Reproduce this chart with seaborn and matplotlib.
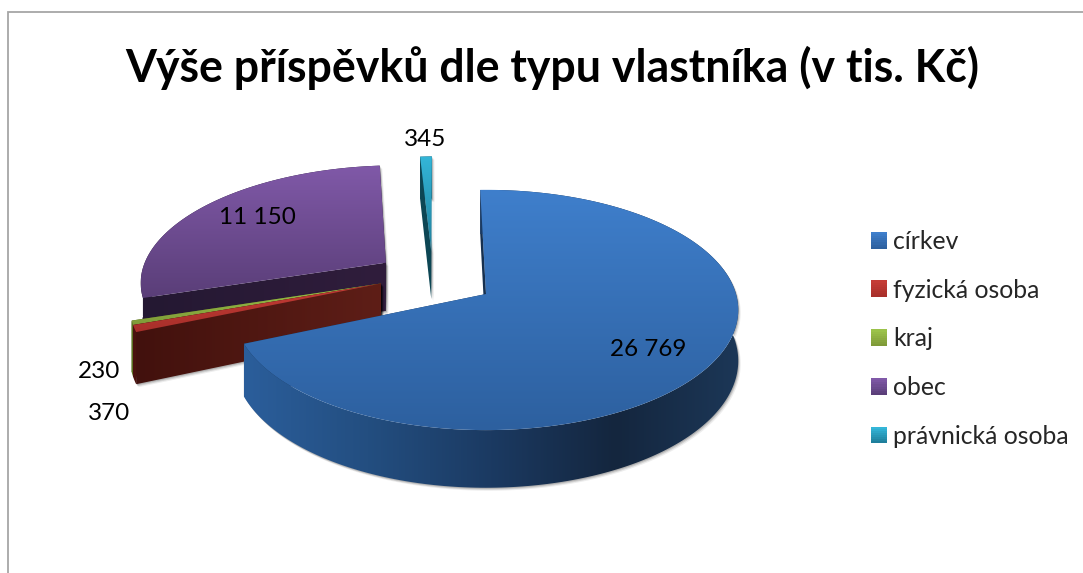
import numpy as np
import matplotlib
matplotlib.use('Agg')
import matplotlib.pyplot as plt
import seaborn as sns
from matplotlib.colors import LinearSegmentedColormap
from matplotlib.legend_handler import HandlerBase
from matplotlib.patches import Patch, Polygon, Rectangle

categories = ['církev', 'fyzická osoba', 'kraj', 'obec', 'právnická osoba']
values = [26769, 370, 230, 11150, 345]
title = 'Výše příspěvků dle typu vlastníka (v tis. Kč)'

# top surface gradient (top colour, bottom colour)
top_colors = [('#3f7fcc', '#2d609f'), ('#c43c36', '#a82f2a'), ('#9bc24a', '#7f9a38'),
              ('#8059a8', '#5a3e78'), ('#34b6d8', '#1f7f9c')]
face_colors = ['#16304f', ('#42110d', '#5e1e17'), '#4a5c1c', ('#241832', '#301d3c'), '#0d4654']
wall_colors = [['#2b5e9b', '#234e80', '#1b3a62', '#14263e', '#1c3757'], '#4a120e', '#5a7222', '#241832', '#0d4654']

# slice offsets in the pie plane, one per slice
offsets = [(0, 0), (-0.425, 0.09), (-0.425, 0.09), (-0.415, 0.275), (-0.23, 0.38)]
draw_order = [4, 3, 2, 1, 0]

CX, CY = 486, 294
RX, RY = 250, 118
K = 0.133
DEPTH = 50


def project(u, v, drop=False):
    u, v = np.asarray(u, float), np.asarray(v, float)
    s = 1 + K * v
    x = CX + RX * u / s
    y = CY - RY * v / s
    if drop:
        y = y + DEPTH / s
    return np.column_stack([x, y])


def fill_gradient(ax, pts, colors, vertical, z):
    poly = Polygon(pts, closed=True, facecolor='none', edgecolor='none', zorder=z)
    ax.add_patch(poly)
    if isinstance(colors, str):
        poly.set_facecolor(colors)
        return
    cmap = LinearSegmentedColormap.from_list('g', list(colors))
    ramp = np.linspace(0, 1, 256)
    grad = ramp[:, None] if vertical else ramp[None, :]
    x0, x1 = pts[:, 0].min(), pts[:, 0].max()
    y0, y1 = pts[:, 1].min(), pts[:, 1].max()
    im = ax.imshow(grad, cmap=cmap, extent=(x0, x1, y1, y0), aspect='auto', zorder=z, origin='upper')
    im.set_clip_path(poly)


def shadow(ax, pts, z):
    for dx, dy, a in [(2.5, 3, 0.07), (1.5, 2, 0.12), (0.8, 1, 0.15)]:
        ax.add_patch(Polygon(pts + [dx, dy], closed=True, facecolor='black', edgecolor='none', alpha=a, zorder=z))


class GradientSwatch(HandlerBase):
    def __init__(self, pairs):
        super().__init__()
        self.pairs = pairs

    def create_artists(self, legend, orig_handle, xdescent, ydescent, width, height, fontsize, trans):
        c1, c2 = self.pairs[orig_handle.get_label()]
        cmap = LinearSegmentedColormap.from_list('s', [c2, c1])
        n = 8
        return [Rectangle((-xdescent, -ydescent + height * i / n), width, height / n + 0.3,
                          facecolor=cmap(i / (n - 1)), edgecolor='none', transform=trans) for i in range(n)]


sns.set_theme(style='white')
plt.rcParams['font.family'] = ['Lato', 'DejaVu Sans']

fig = plt.figure(figsize=(10.83, 5.73), dpi=100)
ax = fig.add_axes([0, 0, 1, 1])

# angles come from the pie itself, the 3D look is then built on top of them
wedges, _ = ax.pie(values, startangle=91.5, counterclock=False)
angles = [(w.theta1, w.theta2) for w in wedges]
for w in wedges:
    w.remove()

z = 2
for i in draw_order:
    t1, t2 = np.radians(angles[i])
    ou, ov = offsets[i]
    t = np.linspace(t1, t2, 240)
    au, av = ou + np.cos(t), ov + np.sin(t)

    arc_top = project(au, av)
    arc_low = project(au, av, drop=True)
    apex_top = project([ou], [ov])
    apex_low = project([ou], [ov], drop=True)

    wall = np.vstack([arc_top, arc_low[::-1]])
    face1 = np.vstack([apex_top, arc_top[:1], arc_low[:1], apex_low])
    face2 = np.vstack([apex_top, arc_top[-1:], arc_low[-1:], apex_low])
    surface = np.vstack([apex_top, arc_top])

    for p in (wall, face1, face2):
        shadow(ax, p, z)
    z += 1
    fill_gradient(ax, face1, face_colors[i], False, z)
    fill_gradient(ax, face2, face_colors[i], False, z + 1)
    fill_gradient(ax, wall, wall_colors[i], False, z + 2)
    fill_gradient(ax, surface, top_colors[i], True, z + 3)
    z += 4

# chart area border, only top and left show in the crop
ax.plot([8, 8, 1083], [573, 12, 12], color='#a6a6a6', lw=1.3, zorder=1, solid_joinstyle='miter')

ax.text(552, 68, title, ha='center', va='center', fontsize=32.1, fontweight='bold', color='black', zorder=50)

label_pos = [(648, 349), (109, 413), (99, 372), (257, 218), (425, 139)]
for val, (lx, ly) in zip(values, label_pos):
    ax.text(lx, ly, f'{val:,}'.replace(',', ' '), ha='center', va='center', fontsize=17.5, color='black', zorder=50)

handles = [Patch(label=c) for c in categories]
leg = ax.legend(handles=handles, labels=categories, loc='center left', bbox_to_anchor=(871 / 1083, 1 - 339 / 573),
                frameon=False, fontsize=17.8, handlelength=0.65, handleheight=0.65, handletextpad=0.25,
                labelspacing=1.04, borderpad=0, borderaxespad=0,
                handler_map={Patch: GradientSwatch(dict(zip(categories, top_colors)))})
leg.set_zorder(50)

ax.set_aspect('auto')
ax.set_xlim(0, 1083)
ax.set_ylim(573, 0)
ax.axis('off')
fig.savefig('out.png', dpi=100)
